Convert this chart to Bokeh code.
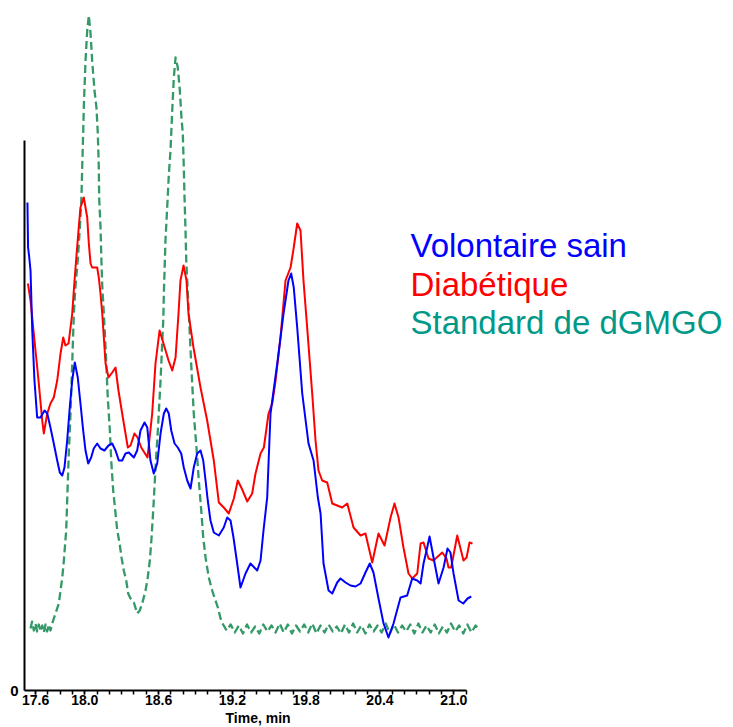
import numpy as np
from bokeh.plotting import figure
from bokeh.models import Range1d, FixedTicker, Label, Title
from bokeh.embed import file_html
from bokeh.resources import INLINE

# ---------------- data ----------------
tick_values = [17.6, 18.0, 18.6, 19.2, 19.8, 20.4, 21.0]
tick_labels = ["17.6", "18.0", "18.6", "19.2", "19.8", "20.4", "21.0"]

series_names = ["Volontaire sain", "Diabétique", "Standard de dGMGO"]

# Volontaire sain (blue)
blue_t = [17.534, 17.539, 17.547, 17.559, 17.573, 17.591, 17.613, 17.640, 17.673, 17.695,
          17.721, 17.748, 17.776, 17.797, 17.817, 17.835, 17.857, 17.878, 17.898, 17.919,
          17.943, 17.965, 17.987, 18.006, 18.028, 18.052, 18.073, 18.101, 18.128, 18.160,
          18.193, 18.223, 18.250, 18.277, 18.304, 18.331, 18.358, 18.399, 18.426, 18.453,
          18.486, 18.508, 18.534, 18.561, 18.589, 18.616, 18.643, 18.662, 18.683, 18.703,
          18.730, 18.756, 18.784, 18.805, 18.833, 18.860, 18.886, 18.914, 18.941, 18.963,
          18.982, 19.000, 19.022, 19.049, 19.090, 19.130, 19.158, 19.185, 19.209, 19.239,
          19.266, 19.307, 19.347, 19.402, 19.429, 19.453, 19.483, 19.510, 19.565, 19.616,
          19.656, 19.678, 19.699, 19.727, 19.768, 19.819, 19.860, 19.895, 19.917, 19.941,
          19.982, 20.012, 20.052, 20.079, 20.120, 20.160, 20.201, 20.242, 20.282, 20.317,
          20.347, 20.388, 20.429, 20.469, 20.510, 20.567, 20.621, 20.662, 20.703, 20.730,
          20.754, 20.784, 20.803, 20.835, 20.876, 20.917, 20.949, 20.973, 20.998, 21.039,
          21.077, 21.112, 21.142]
blue_i = [488, 443, 435, 420, 360, 310, 273, 273, 280, 277,
          263, 247, 230, 218, 215, 223, 250, 283, 310, 328,
          313, 287, 260, 240, 227, 233, 242, 247, 242, 240,
          245, 247, 240, 230, 230, 237, 238, 233, 240, 260,
          268, 263, 230, 217, 227, 257, 277, 282, 277, 260,
          247, 243, 237, 223, 210, 202, 223, 237, 240, 230,
          210, 190, 170, 158, 155, 163, 173, 170, 153, 127,
          103, 117, 127, 120, 130, 160, 193, 277, 327, 377,
          410, 417, 403, 363, 297, 247, 230, 193, 177, 127,
          100, 97, 108, 112, 108, 105, 104, 107, 118, 127,
          118, 92, 67, 53, 67, 93, 95, 112, 110, 107,
          127, 143, 154, 133, 107, 123, 142, 138, 117, 90,
          87, 92, 94]

# Diabétique (red)
red_t = [17.538, 17.559, 17.583, 17.624, 17.654, 17.667, 17.695, 17.721, 17.748, 17.776,
         17.803, 17.825, 17.843, 17.868, 17.898, 17.911, 17.925, 17.951, 17.965, 17.992,
         18.006, 18.020, 18.033, 18.047, 18.060, 18.101, 18.114, 18.128, 18.142, 18.169,
         18.193, 18.223, 18.250, 18.274, 18.304, 18.331, 18.350, 18.372, 18.404, 18.429,
         18.459, 18.510, 18.548, 18.575, 18.608, 18.640, 18.681, 18.711, 18.738, 18.762,
         18.778, 18.803, 18.827, 18.843, 18.884, 18.941, 18.995, 19.049, 19.090, 19.130,
         19.171, 19.212, 19.244, 19.280, 19.321, 19.361, 19.388, 19.429, 19.456, 19.494,
         19.524, 19.551, 19.591, 19.632, 19.673, 19.699, 19.727, 19.754, 19.778, 19.808,
         19.849, 19.876, 19.900, 19.930, 19.971, 20.012, 20.052, 20.093, 20.134, 20.185,
         20.242, 20.282, 20.337, 20.388, 20.437, 20.486, 20.518, 20.551, 20.591, 20.632,
         20.662, 20.703, 20.730, 20.754, 20.795, 20.835, 20.906, 20.941, 20.957, 20.979,
         21.028, 21.079, 21.104, 21.128, 21.152]
red_i = [407, 390, 360, 310, 270, 257, 277, 287, 293, 310,
         337, 353, 345, 347, 377, 400, 423, 463, 483, 493,
         483, 473, 447, 427, 423, 423, 413, 397, 377, 327,
         313, 318, 323, 300, 277, 257, 243, 245, 257, 253,
         243, 233, 277, 327, 360, 347, 330, 320, 333, 377,
         410, 425, 410, 377, 343, 303, 270, 230, 188, 183,
         177, 192, 210, 201, 189, 197, 217, 237, 243, 277,
         287, 310, 353, 410, 423, 443, 467, 460, 410, 363,
         297, 250, 220, 210, 208, 187, 185, 183, 187, 163,
         155, 157, 128, 157, 145, 173, 187, 173, 143, 117,
         112, 117, 147, 148, 132, 130, 138, 132, 123, 123,
         155, 130, 133, 148, 147]

# Standard de dGMGO (green, dashed) - peaks
green_t = [17.559, 17.572, 17.586, 17.599, 17.613, 17.626, 17.640, 17.654, 17.667, 17.681,
           17.694, 17.708, 17.721, 17.735, 17.762, 17.789, 17.803, 17.817, 17.830, 17.838,
           17.849, 17.857, 17.870, 17.884, 17.898, 17.911, 17.925, 17.943, 17.960, 17.973,
           17.979, 17.987, 17.992, 17.998, 18.006, 18.020, 18.033, 18.047, 18.060, 18.079,
           18.095, 18.106, 18.114, 18.117, 18.128, 18.136, 18.142, 18.155, 18.169, 18.187,
           18.204, 18.215, 18.231, 18.242, 18.264, 18.282, 18.299, 18.317, 18.337, 18.353,
           18.372, 18.399, 18.426, 18.447, 18.467, 18.494, 18.512, 18.529, 18.543, 18.553,
           18.561, 18.575, 18.594, 18.616, 18.638, 18.643, 18.656, 18.673, 18.683, 18.697,
           18.711, 18.724, 18.738, 18.756, 18.773, 18.786, 18.797, 18.805, 18.811, 18.819,
           18.825, 18.833, 18.846, 18.865, 18.886, 18.908, 18.927, 18.947, 18.963, 18.982,
           19.008, 19.036, 19.063, 19.082, 19.104]
green_i = [62, 69, 60, 67, 59, 66, 59, 65, 58, 66,
           59, 66, 60, 67, 77, 87, 100, 113, 130, 143,
           160, 190, 237, 277, 327, 377, 405, 430, 463, 493,
           523, 557, 583, 603, 630, 660, 675, 657, 630, 600,
           583, 557, 523, 493, 463, 427, 405, 377, 343, 293,
           260, 230, 200, 187, 160, 148, 133, 120, 110, 97,
           92, 88, 77, 80, 87, 100, 113, 130, 153, 173,
           190, 223, 260, 310, 370, 397, 450, 490, 515, 540,
           580, 613, 633, 623, 600, 573, 557, 523, 493, 460,
           430, 410, 377, 327, 277, 243, 210, 180, 153, 133,
           113, 100, 90, 83, 72]

# Standard de dGMGO - noisy baseline after the peaks (regularly sampled)
green_base_start, green_base_end = 19.12, 21.21
green_base_i = [67, 60, 66, 58, 65, 57, 66, 58, 64, 57,
                66, 59, 65, 58, 67, 58, 66, 57, 65, 59,
                66, 58, 67, 57, 65, 58, 66, 59, 64, 57,
                66, 58, 67, 58, 65, 57, 66, 59, 65, 58,
                67, 57, 66, 58, 65, 59, 66, 57, 67, 58,
                65, 58, 66, 57, 64, 58, 67, 59, 65, 57,
                66, 58, 65, 60]

green_all_t = list(green_t) + list(np.linspace(green_base_start, green_base_end, len(green_base_i)))
green_all_i = list(green_i) + list(green_base_i)

# ---------------- figure ----------------
p = figure(width=733, height=727, output_backend="svg", toolbar_location=None,
           x_range=Range1d(17.51, 23.274), y_range=Range1d(0, 690),
           min_border_left=24, min_border_right=0, min_border_top=0, min_border_bottom=37)
p.outline_line_color = None
p.xgrid.visible = False
p.ygrid.visible = False
p.background_fill_color = "white"
p.border_fill_color = "white"

# x axis
p.xaxis.ticker = FixedTicker(ticks=tick_values,
                             minor_ticks=list(np.round(np.arange(17.6, 21.11, 0.1), 2)))
p.xaxis.major_label_overrides = {v: s for v, s in zip(tick_values, tick_labels)}
p.xaxis.bounds = (17.51, 21.1)
p.xaxis.axis_line_width = 2
p.xaxis.axis_line_color = "black"
p.xaxis.major_tick_in = 0
p.xaxis.major_tick_out = 4
p.xaxis.minor_tick_in = 0
p.xaxis.minor_tick_out = 4
p.xaxis.major_tick_line_width = 1.5
p.xaxis.minor_tick_line_width = 1.5
p.xaxis.major_tick_line_color = "black"
p.xaxis.minor_tick_line_color = "black"
p.xaxis.major_label_standoff = 0
p.xaxis.major_label_text_font = "Liberation Sans"
p.xaxis.major_label_text_font_style = "bold"
p.xaxis.major_label_text_font_size = "14px"
p.xaxis.major_label_text_color = "black"

# x-axis title, centred under the drawn part of the axis (panel below the axis)
p.add_layout(Title(text="Time, min", align="left", offset=201, standoff=0,
                   text_font="Liberation Sans", text_font_style="bold",
                   text_font_size="14px", text_color="black"), "below")

# y axis
p.yaxis.ticker = FixedTicker(ticks=[0], minor_ticks=[])
p.yaxis.bounds = (0, 550)
p.yaxis.axis_line_width = 2
p.yaxis.axis_line_color = "black"
p.yaxis.major_tick_out = 0
p.yaxis.major_tick_in = 0
p.yaxis.minor_tick_out = 0
p.yaxis.minor_tick_in = 0
p.yaxis.major_label_standoff = 6
p.yaxis.major_label_text_font = "Liberation Sans"
p.yaxis.major_label_text_font_style = "bold"
p.yaxis.major_label_text_font_size = "15px"
p.yaxis.major_label_text_color = "black"

# curves
p.line(green_all_t, green_all_i, line_color="#339966", line_width=2.3,
       line_dash="8 4", line_join="round")
p.line(red_t, red_i, line_color="#FF0000", line_width=2, line_join="round")
p.line(blue_t, blue_i, line_color="#0000FF", line_width=2, line_join="round")

# legend texts
legend_colors = ["#0000FF", "#FF0000", "#009988"]
legend_y = [445, 406, 368]
for name, col, yy in zip(series_names, legend_colors, legend_y):
    p.add_layout(Label(x=20.648, y=yy, text=name, text_color=col,
                       text_font="Liberation Sans", text_font_size="33px",
                       text_align="left", text_baseline="alphabetic"))

open("out.html", "w").write(file_html(p, INLINE))
